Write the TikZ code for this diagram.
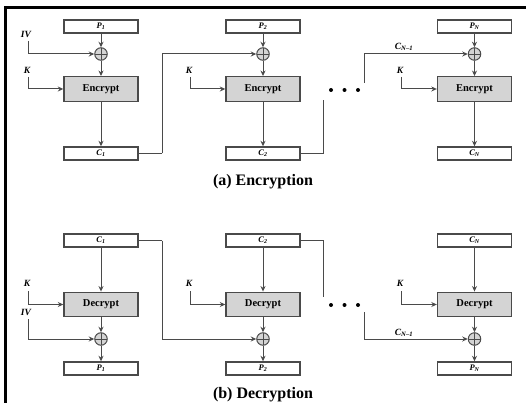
\documentclass[tikz,border=0pt]{standalone}
\usepackage{fontspec}
\setmainfont{Liberation Serif}
\usetikzlibrary{arrows.meta}
\definecolor{boxgray}{HTML}{D4D4D4}
\definecolor{linegray}{HTML}{4A4A4A}
\tikzset{
  databox/.style={draw=linegray, line width=1.4pt, fill=white, minimum width=74pt, minimum height=13pt, inner sep=0pt, font=\fontsize{8.5}{8}\selectfont\bfseries\itshape},
  cipherbox/.style={draw=linegray, line width=1.4pt, fill=boxgray, minimum width=74pt, minimum height=24.5pt, inner sep=0pt, font=\fontsize{10.5}{10}\selectfont\bfseries},
  xorc/.style={circle, draw=linegray, line width=1pt, fill=boxgray, minimum size=12.5pt, inner sep=0pt,
    path picture={\draw[linegray, line width=0.8pt] (path picture bounding box.north) -- (path picture bounding box.south) (path picture bounding box.west) -- (path picture bounding box.east);}},
  conn/.style={draw=linegray, line width=1pt},
  arr/.style={conn, -{Stealth[length=5.5pt,width=5pt]}},
  lbl/.style={font=\fontsize{9.5}{9}\selectfont\bfseries\itshape, inner sep=0pt},
  captext/.style={font=\fontsize{16}{16}\selectfont\bfseries, inner sep=0pt},
  bigdot/.style={circle, fill=black, minimum size=4pt, inner sep=0pt}
}
\newcommand{\sub}[1]{\textsubscript{\bfseries\itshape #1}}
\begin{document}
\begin{tikzpicture}[x=1pt,y=-1pt]
\useasboundingbox (0,0) rectangle (526,403);
% frame
\draw[line width=3pt] (5,403) -- (5,7.5) -- (526,7.5);

% ===== Encryption =====
\foreach \n/\x/\s in {1/101/1, 2/263/2, 3/474.5/N} {
  \node[databox] (ep\n) at (\x,26.5) {P\sub{\s}};
  \node[xorc] (ex\n) at (\x,54) {};
  \node[cipherbox] (ee\n) at (\x,89) {Encrypt};
  \node[databox] (ec\n) at (\x,153.5) {C\sub{\s}};
  \draw[arr] (ep\n) -- (ex\n);
  \draw[arr] (ex\n) -- (ee\n);
  \draw[arr] (ee\n) -- (ec\n);
}
\node[lbl] (eiv) at (26,34) {IV};
\coordinate (eivs) at (28,41);
\draw[arr] (eivs) |- (ex1.west);
\node[lbl] (ek1) at (27,70) {K};
\coordinate (ek1s) at (28,77);
\draw[arr] (ek1s) |- (ee1.west);
\node[lbl] (ek2) at (189,70) {K};
\coordinate (ek2s) at (190,77);
\draw[arr] (ek2s) |- (ee2.west);
\node[lbl] (ek3) at (400,70) {K};
\coordinate (ek3s) at (401,77);
\draw[arr] (ek3s) |- (ee3.west);
\coordinate (ec1r) at (162,153.5);
\draw[conn] (ec1.east) -- (ec1r);
\draw[arr] (ec1r) |- (ex2.west);
\coordinate (ec2end) at (323,100);
\draw[conn] (ec2.east) -| (ec2end);
\node[bigdot] (ed1) at (331,90) {};
\node[bigdot] (ed2) at (344.5,90) {};
\node[bigdot] (ed3) at (358,90) {};
\coordinate (ecn1) at (364,83);
\draw[arr] (ecn1) |- (ex3.west);
\node[lbl] (ecn1l) at (404,47) {C\sub{N--1}};
\node[captext] (ecap) at (263,182) {(a) Encryption};

% ===== Decryption =====
\foreach \n/\x/\s in {1/101/1, 2/263/2, 3/474.5/N} {
  \node[databox] (dc\n) at (\x,240.5) {C\sub{\s}};
  \node[cipherbox] (dd\n) at (\x,304.5) {Decrypt};
  \node[xorc] (dx\n) at (\x,339) {};
  \node[databox] (dp\n) at (\x,368.5) {P\sub{\s}};
  \draw[arr] (dc\n) -- (dd\n);
  \draw[arr] (dd\n) -- (dx\n);
  \draw[arr] (dx\n) -- (dp\n);
}
\node[lbl] (dk1) at (27,283) {K};
\coordinate (dk1s) at (28,291);
\draw[arr] (dk1s) |- (dd1.west);
\node[lbl] (dk2) at (189,283) {K};
\coordinate (dk2s) at (190,291);
\draw[arr] (dk2s) |- (dd2.west);
\node[lbl] (dk3) at (400,283) {K};
\coordinate (dk3s) at (401,291);
\draw[arr] (dk3s) |- (dd3.west);
\node[lbl] (div) at (26,312) {IV};
\coordinate (divs) at (28,319);
\draw[arr] (divs) |- (dx1.west);
\coordinate (dc1r) at (162,240.5);
\draw[conn] (dc1.east) -- (dc1r);
\draw[arr] (dc1r) |- (dx2.west);
\coordinate (dc2end) at (323,297);
\draw[conn] (dc2.east) -| (dc2end);
\node[bigdot] (dd1d) at (331,305) {};
\node[bigdot] (dd2d) at (344.5,305) {};
\node[bigdot] (dd3d) at (358,305) {};
\coordinate (dcn1) at (364,312);
\draw[arr] (dcn1) |- (dx3.west);
\node[lbl] (dcn1l) at (404,333) {C\sub{N--1}};
\node[captext] (dcap) at (263,395) {(b) Decryption};
\end{tikzpicture}
\end{document}
